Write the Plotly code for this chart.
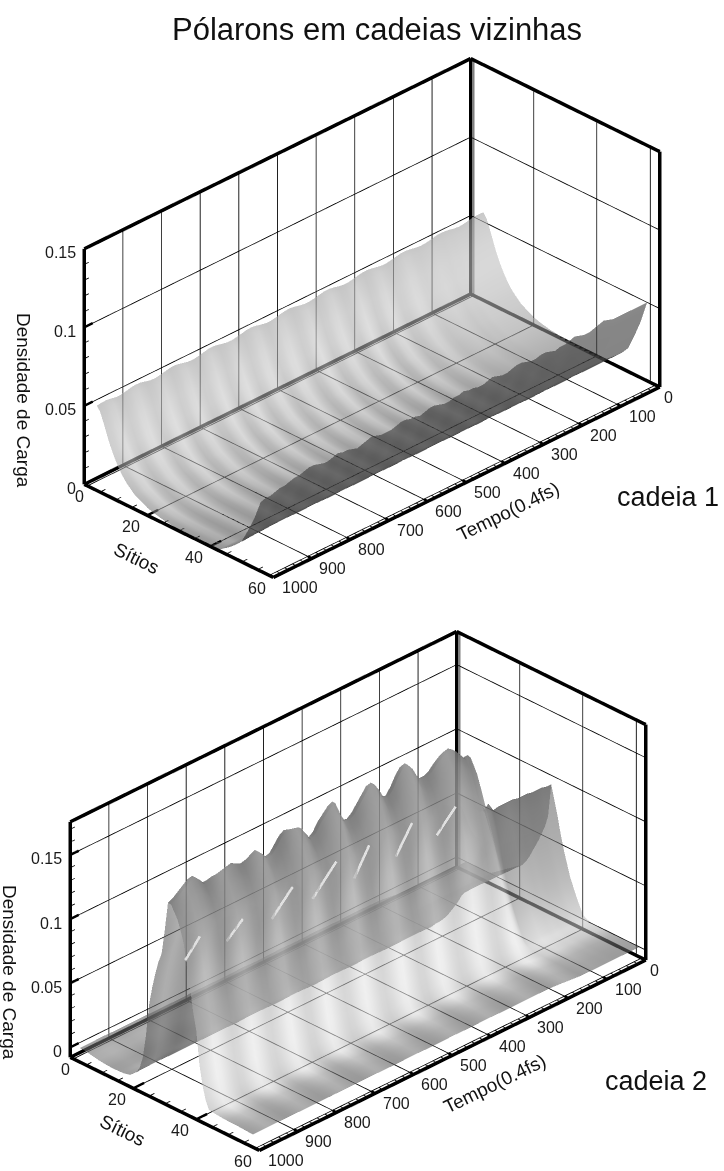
import plotly.graph_objects as go

# ---------- data ----------
site_ticks = [0, 20, 40, 60]
time_ticks = [0, 100, 200, 300, 400, 500, 600, 700, 800, 900, 1000]
z1_ticks = [0, 0.05, 0.1, 0.15]
z2_ticks = [0, 0.05, 0.1, 0.15]
z1_labels = ["0", "0.05", "0.1", "0.15"]
z2_labels = ["0", "0.05", "0.1", "0.15"]

time1 = [i * 12.5 for i in range(81)]
# chain 1: height of the two rims along time (index 0 = t 0)
c1_left_rim = [.0560,.0562,.0560,.0555,.0548,.0545,.0548,.0555,.0560,
               .0562,.0558,.0550,.0545,.0543,.0547,.0553,.0558,.0558,
               .0552,.0545,.0540,.0540,.0545,.0552,.0557,.0556,.0550,
               .0543,.0538,.0538,.0543,.0551,.0556,.0555,.0549,.0542,
               .0537,.0537,.0543,.0550,.0555,.0554,.0548,.0541,.0536,
               .0536,.0542,.0550,.0555,.0553,.0546,.0539,.0534,.0535,
               .0541,.0549,.0554,.0552,.0545,.0538,.0533,.0534,.0541,
               .0549,.0554,.0551,.0544,.0537,.0533,.0535,.0543,.0551,
               .0553,.0549,.0541,.0535,.0535,.0541,.0546,.0545,.0540]
c1_right_rim = [.050,.050,.050,.050,.050,.050,.050,.050,.051,.052,.051,.050,.049,.049,.050,.051,.050,.049,.049,.048,
                .049,.050,.050,.049,.049,.050,.051,.051,.050,.049,.049,.050,.051,.050,.049,.049,.050,.050,.051,.050,
                .050,.049,.049,.050,.051,.051,.050,.049,.050,.050,.051,.051,.050,.049,.049,.049,.050,.051,.050,.049,
                .048,.049,.050,.050,.051,.050,.049,.049,.050,.051,.051,.050,.049,.049,.048,.047,.047,.046,.045,.045,.044]
sites1 = [4,5,6,7,8,9,10,11,12,13,14,16,18,20,22,25,28,32,36,40,43,46,48,50,52,54,55,56]
c1_left_shape = [1,.95,.85,.74,.63,.54,.46,.39,.33,.28,.24,.17,.13,.09,.065,.04,.025,.015,.01,.006,.004,.002,.001,0,0,0,0,0]
c1_right_shape = [0,0,0,0,0,0,0,0,0,0,0,0,0,0,0,0,0,.002,.005,.008,.02,.12,.2,.3,.5,.72,.86,1]
# grey level of the chain 1 sheet across sites and of its stripes along time
c1_site_shade = [.62,.64,.66,.68,.68,.68,.66,.64,.62,.60,.58,.55,.52,.50,.48,.44,.40,.36,.34,.32,.30,.22,.20,.20,.20,.20,.20,.22]
c1_band_depth = [.04,.06,.07,.08,.10,.11,.13,.14,.16,.17,.18,.20,.21,.21,.21,.21,.21,.20,.18,.17,.14,.03,.02,.02,.02,.02,.02,.02]
c1_bands = [.6,.6,.6,.6,.6,.6,.6,.5,.5,.4,.5,.6,.5,.4,.3,.4,.7,.8,.5,.2,
            .1,.5,.9,.7,.2,0,.5,1,.6,.1,0,.4,.9,.7,.2,0,.5,1,.7,.2,
            0,.4,.9,.8,.3,0,.3,.9,.8,.3,0,.4,1,.7,.2,0,.5,1,.6,.1,
            0,.4,.9,.7,.2,0,.5,1,.7,.2,0,.4,.9,.8,.3,0,.3,.9,.7,.2,0]

time2 = [i * 12.5 for i in range(81)]
# chain 2: height of the wide ridge (index 0 = t 0) and of the narrow starting peak
c2_wide_ridge = [0,0,0,0,0,0,0,0,0,0,0,0,0,.02,.045,.07,.10,.125,.146,
                 .150,.155,.160,.163,.162,.160,.157,.153,.151,.151,.155,.163,.168,.167,.162,.155,.150,.152,.160,.166,
                 .165,.160,.155,.150,.147,.148,.156,.166,.164,.160,.156,.150,.147,.153,.159,.160,.161,.1625,.160,.155,
                 .150,.149,.154,.158,.156,.154,.153,.155,.157,.156,.155,.154,.154,.153,.153,.158,.162,.161,.158,.155,.152,.150]
c2_narrow_peak = [.093,.093,.094,.094,.094,.095,.095,.095,.096,.096,.096,.096,.095,.085,.06,.04,.02,.01,.005,0,
                  0,0,0,0,0,0,0,0,0,0,0,0,0,0,0,0,0,0,0,0,0,0,0,0,0,0,0,0,0,0,0,0,0,0,0,0,0,0,0,0,
                  0,0,0,0,0,0,0,0,0,0,0,0,0,0,0,0,0,0,0,0,0]
sites2 = [3,5,7,9,11,13,15,17,19,21,22,23,24,25,26,27,28,29,30,31,32,33,34,35,36,37,38,39,40,41,42,43,44,46,48,50,52,54,56,58]
c2_wide_shape = [.02,.02,.012,.006,.002,0,0,.002,.01,.04,.07,.13,.25,.42,.52,.60,.67,.72,.85,1,1,.97,.94,.89,.83,.72,.62,.50,.41,.24,.14,.07,.03,.025,.022,.02,.02,.018,.016,.014]
c2_narrow_shape = [0,0,0,0,.01,.05,.09,.13,.17,.21,.25,.30,.36,.42,.48,.55,.62,.72,1,.88,.76,.62,.50,.40,.30,.23,.16,.10,.04,.02,.01,0,0,0,0,0,0,0,0,0]
c2_site_shade = [.35,.40,.45,.45,.40,.35,.35,.35,.35,.35,.35,.35,.35,.35,.35,.35,.35,.35,.35,
                 .38,.40,.42,.45,.48,.52,.56,.60,.64,.68,.72,.72,.70,.66,.60,.50,.42,.38,.35,.33,.32]
c2_band_depth = [.05,.05,.05,.05,.05,.05,.05,.12,.12,.12,.12,.12,.12,.12,.12,.12,.12,.12,.12,
                 .15,.15,.15,.15,.15,.15,.15,.18,.18,.18,.18,.18,.18,.20,.26,.25,.20,.18,.15,.15,.15]
c2_bands = [.3,.3,.3,.2,.2,.2,.3,.3,.4,.5,.4,.3,.2,.5,.8,1,.9,.6,.3,.1,
            .2,.5,.8,1,.8,.5,.2,.1,.3,.6,.9,1,.7,.4,.1,.1,.4,.7,1,.9,
            .6,.3,.1,.2,.5,.8,1,.8,.5,.2,.1,.3,.6,.9,1,.7,.4,.1,.1,.4,
            .7,1,.9,.6,.3,.1,.2,.5,.8,1,.8,.5,.2,.1,.3,.6,.9,1,.7,.4,.2]
# pale streaks that run up the near flank of the chain 2 ridge
c2_streak_site = 36.5
c2_streak_t0 = [1000, 893, 776, 671, 563, 455, 349]
c2_streak_t1 = [962, 851, 722, 609, 524, 413, 300]
c2_streak_z0 = [.112, .111, .111, .111, .111, .112, .113]
c2_streak_z1 = [.125, .122, .128, .131, .131, .132, .128]

# ---------- styling ----------
GREY = [[0, "#000000"], [1, "#ffffff"]]
FONT = "Liberation Sans, Arial, sans-serif"


def grid(n_rows, n_cols, a, pa, b, pb):
    return [[a[i] * pa[j] + b[i] * pb[j] for j in range(n_cols)] for i in range(n_rows)]


def shade(n_rows, n_cols, base, bands, depth):
    return [[base[j] + bands[i] * depth[j] for j in range(n_cols)] for i in range(n_rows)]


def seg(x, y, z, xs, ys, zs):
    xs += [x[0], x[1], None]
    ys += [y[0], y[1], None]
    zs += [z[0], z[1], None]


def lines(xs, ys, zs, w, color="#000000"):
    return go.Scatter3d(x=xs, y=ys, z=zs, mode="lines", line=dict(color=color, width=w),
                        showlegend=False, hoverinfo="skip", connectgaps=False)


def frame(scene, zmin, zmax, zticks, zminor):
    s0, s1 = site_ticks[0], site_ticks[-1]
    t0, t1 = time_ticks[0], time_ticks[-1]
    tx, ty, tz = [], [], []       # thick box edges
    fx, fy, fz = [], [], []       # thin grid
    mx, my, mz = [], [], []       # minor ticks
    Mx, My, Mz = [], [], []       # major ticks
    for a, b, c in [([s0, s0], [t1, t1], [zmin, zmax]), ([s0, s0], [t0, t0], [zmin, zmax]),
                    ([s1, s1], [t0, t0], [zmin, zmax]), ([s0, s0], [t1, t0], [zmax, zmax]),
                    ([s0, s1], [t0, t0], [zmax, zmax]), ([s0, s0], [t1, t0], [zmin, zmin]),
                    ([s0, s1], [t0, t0], [zmin, zmin]), ([s0, s1], [t1, t1], [zmin, zmin]),
                    ([s1, s1], [t1, t0], [zmin, zmin])]:
        seg(a, b, c, tx, ty, tz)
    for t in time_ticks[1:-1]:
        seg([s0, s0], [t, t], [zmin, zmax], fx, fy, fz)
        seg([s0, s1], [t, t], [zmin, zmin], fx, fy, fz)
    for s in site_ticks[1:-1]:
        seg([s, s], [t0, t0], [zmin, zmax], fx, fy, fz)
        seg([s, s], [t1, t0], [zmin, zmin], fx, fy, fz)
    for s in (1, 57):
        seg([s, s], [t0, t0], [zmin, zmax], fx, fy, fz)
    seg([1, 1], [t1, t0], [zmin, zmin], fx, fy, fz)
    seg([s1 - 1.3, s1 - 1.3], [t1, t0], [zmin, zmin], fx, fy, fz)
    for v in zticks:
        seg([s0, s0], [t1, t0], [v, v], fx, fy, fz)
        seg([s0, s1], [t0, t0], [v, v], fx, fy, fz)
        seg([s0, s0], [t1, t1 - 22], [v, v], Mx, My, Mz)
    for v in zminor:
        seg([s0, s0], [t1, t1 - 12], [v, v], mx, my, mz)
    for t in range(0, 1001, 20):
        if t % 100:
            seg([s1, s1 - 1.3], [t, t], [zmin, zmin], mx, my, mz)
        else:
            seg([s1, s1 - 1.3], [t, t], [zmin, zmin], Mx, My, Mz)
    for s in range(0, 61, 5):
        if s % 20:
            seg([s, s], [t1, t1 - 14], [zmin, zmin], mx, my, mz)
        else:
            seg([s, s], [t1, t1 - 28], [zmin, zmin], Mx, My, Mz)
    out = [lines(fx, fy, fz, 1.6), lines(mx, my, mz, 1.6), lines(Mx, My, Mz, 5), lines(tx, ty, tz, 7)]
    for tr in out:
        tr.scene = scene
    return out


def scene_layout(domain_x, domain_y, zmin, zmax, zticks, zlabels):
    ann = []
    txt = dict(family=FONT, size=16, color="#1a1a1a")
    for s in site_ticks:
        ann.append(dict(x=s, y=time_ticks[-1], z=zmin, text=str(s), showarrow=False, font=txt,
                        xshift=-5 if s == 0 else -16, yshift=-12 if s == 0 else -11))
    for t in time_ticks:
        dx = 9 if t == 0 else (27 if t == 1000 else 21)
        ann.append(dict(x=site_ticks[-1], y=t, z=zmin, text=str(t), showarrow=False, font=txt,
                        xshift=dx, yshift=-10))
    for v, lab in zip(zticks, zlabels):
        ann.append(dict(x=site_ticks[0], y=time_ticks[-1], z=v, text=lab, showarrow=False, font=txt,
                        xanchor="right", xshift=-6, yshift=-4))
    hidden = dict(showgrid=False, zeroline=False, showline=False, showticklabels=False, ticks="",
                  showbackground=False, showspikes=False, title=dict(text=""))
    pad = 0.002
    return dict(
        domain=dict(x=domain_x, y=domain_y),
        xaxis=dict(range=[site_ticks[0] - 0.1, site_ticks[-1] + 0.1], **hidden),
        yaxis=dict(range=[time_ticks[-1] + 1, time_ticks[0] - 1], **hidden),
        zaxis=dict(range=[zmin - pad * (zmax - zmin), zmax + pad * (zmax - zmin)], **hidden),
        aspectmode="manual",
        aspectratio=dict(x=0.958, y=1.956, z=0.970),
        camera=dict(projection=dict(type="orthographic"), up=dict(x=0, y=0, z=1),
                    center=dict(x=0, y=0, z=0), eye=dict(x=1.25, y=-1.25, z=1.0)),
        annotations=ann,
    )


W, H = 724.0, 1171.0
dom1x = [(372 - 320) / W, (372 + 320) / W]
dom1y = [1 - 598 / H, 1 - 38 / H]
dom2x = [(358 - 320) / W, (358 + 320) / W]
dom2y = [1 - 1171 / H, 1 - 611 / H]

Z1MIN, Z1MAX = 0.0, 0.15
Z2MIN, Z2MAX = -0.0078, 0.1758
z1minor = [v / 100 for v in range(1, 15) if v % 5]
z2minor = [v / 100 for v in range(1, 18) if v % 5]

n1, m1 = len(time1), len(sites1)
n2, m2 = len(time2), len(sites2)
z1 = grid(n1, m1, c1_left_rim, c1_left_shape, c1_right_rim, c1_right_shape)
z2 = grid(n2, m2, c2_wide_ridge, c2_wide_shape, c2_narrow_peak, c2_narrow_shape)
col1 = shade(n1, m1, c1_site_shade, c1_bands, c1_band_depth)
col2 = shade(n2, m2, c2_site_shade, c2_bands, c2_band_depth)

LIGHT = dict(ambient=0.85, diffuse=0.3, specular=0.0, roughness=0.8, fresnel=0.0)
LPOS = dict(x=2000, y=-3000, z=6000)
fig = go.Figure()
fig.add_trace(go.Surface(x=sites1, y=time1, z=z1, surfacecolor=col1, cmin=0, cmax=1, colorscale=GREY,
                         showscale=False, opacity=0.6, lighting=LIGHT, lightposition=LPOS,
                         hoverinfo="skip", scene="scene"))
fig.add_traces(frame("scene", Z1MIN, Z1MAX, z1_ticks, z1minor))
fig.add_trace(go.Surface(x=sites2, y=time2, z=z2, surfacecolor=col2, cmin=0, cmax=1, colorscale=GREY,
                         showscale=False, opacity=0.6, lighting=LIGHT, lightposition=LPOS,
                         hoverinfo="skip", scene="scene2"))
fig.add_traces(frame("scene2", Z2MIN, Z2MAX, z2_ticks, z2minor))
sx, sy, sz = [], [], []
for a, b, c, d in zip(c2_streak_t0, c2_streak_t1, c2_streak_z0, c2_streak_z1):
    seg([c2_streak_site, c2_streak_site], [a, b], [c, d], sx, sy, sz)
streak = lines(sx, sy, sz, 5, "#e0e0e0")
streak.scene = "scene2"
fig.add_trace(streak)


def note(text, px, py, size, angle=0):
    return dict(text=text, x=px / W, y=1 - py / H, xref="paper", yref="paper", showarrow=False,
                textangle=angle, font=dict(family=FONT, size=size, color="#111111"),
                xanchor="center", yanchor="middle")


fig.update_layout(
    width=724, height=1171, autosize=False, paper_bgcolor="white", showlegend=False,
    margin=dict(l=0, r=0, t=0, b=0),
    scene=scene_layout(dom1x, dom1y, Z1MIN, Z1MAX, z1_ticks, z1_labels),
    scene2=scene_layout(dom2x, dom2y, Z2MIN, Z2MAX, z2_ticks, z2_labels),
    annotations=[
        note("Pólarons em cadeias vizinhas", 377, 30, 31),
        note("cadeia 1", 668, 497, 27),
        note("cadeia 2", 656, 1081, 27),
        note("Densidade de Carga", 24, 400, 19, 90),
        note("Densidade de Carga", 10, 972, 19, 90),
        note("Sítios", 137, 558, 19, 26),
        note("Sítios", 123, 1130, 19, 26),
        note("Tempo(0.4fs)", 508, 512, 19, -26),
        note("Tempo(0.4fs)", 495, 1083, 19, -26),
    ],
)
# the page's default 8 px body margin would push the 724 px figure out of the window
fig.write_html("out.html", config={"displayModeBar": False},
               post_script="document.body.style.margin='0';")
